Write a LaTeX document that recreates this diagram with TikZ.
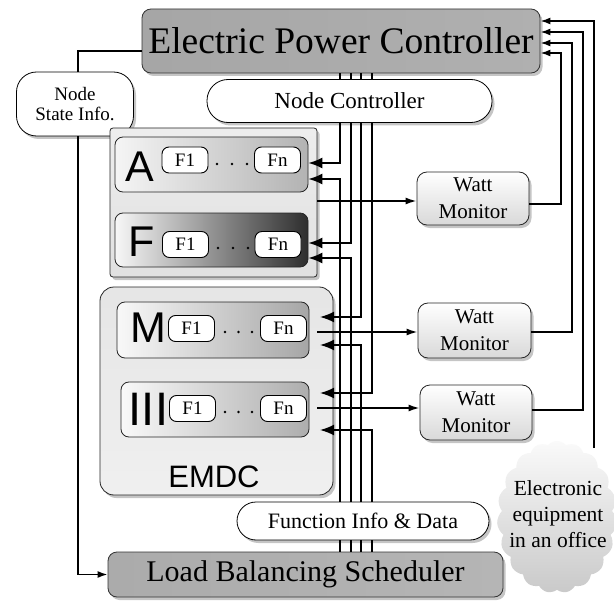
\documentclass[tikz,border=0pt]{standalone}
\usepackage{fontspec}
\setmainfont{Liberation Serif}
\newfontfamily\hvsans{Liberation Sans}
\usetikzlibrary{arrows.meta,shadows,shapes.symbols,calc}
\newcommand{\fsz}[2]{\fontsize{#1}{#2}\selectfont}
\begin{document}
\begin{tikzpicture}[x=1pt,y=-1pt]
\tikzset{
  conn/.style={line width=1.7pt},
  arr/.style={conn,-{Latex[length=14pt,width=11pt]}},
  warr/.style={conn,-{Latex[length=11pt,width=7pt]}},
  sarr/.style={conn,-{Latex[length=10pt,width=7pt]}},
  sh/.style={drop shadow={shadow xshift=2.5pt,shadow yshift=-3pt,opacity=0.45}},
  bigbar/.style={sh, draw=gray!40!black, line width=0.8pt, rounded corners=9pt, inner sep=0pt},
  pill/.style={sh, draw=black, line width=0.8pt, fill=white, inner sep=0pt, align=center},
  fbox/.style={draw=black, line width=0.9pt, fill=white, rounded corners=7pt, minimum width=46pt, minimum height=26pt, inner sep=0pt, font=\fsz{19}{19}},
  ftl/.style={font=\hvsans\fsz{43}{43}, inner sep=0pt},
  fam/.style={draw=gray!30!black, line width=0.8pt, rounded corners=8pt, inner sep=0pt},
  grpbox/.style={sh, draw=gray!30!black, line width=0.8pt, inner sep=0pt},
  watt/.style={sh, draw=gray!30!black, line width=0.8pt, rounded corners=10pt, top color=white, bottom color=gray!30, inner sep=0pt, align=center, font=\fsz{21}{27}},
}
\useasboundingbox (0,0) rectangle (614,602);
\fill[white] (0,0) rectangle (614,602);

% coordinates
\coordinate (t1) at (340,0); \coordinate (t2) at (351,0);
\coordinate (t3) at (361,0); \coordinate (t4) at (372,0);
\coordinate (r1) at (561,0); \coordinate (r2) at (572,0);
\coordinate (r3) at (583,0); \coordinate (r4) at (594,0);
\coordinate (xN) at (78,0);
\coordinate (xE) at (320,0);
\coordinate (xS) at (317,0);
\coordinate (yA1) at (0,163); \coordinate (yA2) at (0,179); \coordinate (yAw) at (0,201);
\coordinate (yF1) at (0,243); \coordinate (yF2) at (0,258);
\coordinate (yM1) at (0,317); \coordinate (yMw) at (0,332); \coordinate (yM2) at (0,345);
\coordinate (yI1) at (0,393); \coordinate (yIw) at (0,408); \coordinate (yI2) at (0,430);
\coordinate (yE1) at (0,53); \coordinate (yE2) at (0,43); \coordinate (yE3) at (0,32); \coordinate (yE4) at (0,21);
\coordinate (yW1) at (0,204); \coordinate (yW2) at (0,332); \coordinate (yW3) at (0,410);
\coordinate (yNS) at (0,51);
\coordinate (eqend) at (594,448);

% cloud
\node[cloud, cloud puffs=19, cloud puff arc=100, cloud ignores aspect, minimum width=120pt, minimum height=152pt, inner sep=0pt, top color=gray!4, bottom color=gray!42] (eq) at (557,517) {};
\node[inner sep=0pt, align=center, font=\fsz{21.5}{26}] (eqt) at (558,514) {Electronic\\equipment\\in an office};

% main bars
\node[bigbar, minimum width=398pt, minimum height=64pt, left color=gray!70, middle color=gray!26, right color=gray!62, font=\fsz{37.5}{37.5}] (epc) at (341,41) {Electric Power Controller};
\node[bigbar, minimum width=395pt, minimum height=45pt, left color=gray!66, middle color=gray!34, right color=gray!58, font=\fsz{30}{30}] (lbs) at (305.5,574.5) {Load Balancing Scheduler};

\node[pill, rounded corners=20pt, minimum width=117pt, minimum height=64pt, font=\fsz{19}{20}] (nsi) at (75,104) {Node\\State Info.};
\node[pill, rounded corners=21pt, minimum width=285pt, minimum height=43pt, font=\fsz{23}{23}] (nc) at (349.5,101) {Node Controller};
\node[pill, rounded corners=19pt, minimum width=252pt, minimum height=38pt, font=\fsz{22}{22}] (fid) at (363,521) {Function Info \& Data};

% group A/F
\node[grpbox, rounded corners=3pt, minimum width=207pt, minimum height=149pt, top color=gray!14, bottom color=gray!24] (grp) at (213.5,202.5) {};
\node[fam, minimum width=193pt, minimum height=55pt, left color=gray!8, right color=gray!60] (A) at (211.5,164.5) {};
\node[fam, minimum width=193pt, minimum height=54pt, left color=gray!6, right color=black!82] (F) at (211.5,240) {};

% EMDC
\node[grpbox, rounded corners=14pt, minimum width=233pt, minimum height=208pt, top color=gray!20, bottom color=gray!12] (emdc) at (216.5,391) {};
\node[fam, minimum width=192pt, minimum height=56pt, left color=gray!5, right color=gray!70] (M) at (213,330) {};
\node[fam, minimum width=188pt, minimum height=55pt, left color=gray!5, right color=gray!64] (III) at (215,409.5) {};
\node[inner sep=0pt, font=\hvsans\fsz{31}{31}] (emdcl) at (214,477) {EMDC};

% letters
\node[ftl] (lA) at (140,167) {A};
\node[ftl] (lF) at (142,242) {F};
\node[ftl] (lM) at (148.5,327.5) {M};
\node[ftl, font=\hvsans\fsz{47}{47}] (lI) at (148.5,409) {III};

% F1 / Fn boxes
\node[fbox] (A1) at (185,160) {F1};   \node[fbox] (An) at (277.5,160) {Fn};
\node[fbox] (F1) at (185.5,244.5) {F1}; \node[fbox] (Fn) at (278,244.5) {Fn};
\node[fbox] (M1) at (191.5,328.5) {F1}; \node[fbox] (Mn) at (283.5,328.5) {Fn};
\node[fbox] (I1) at (192.5,408.5) {F1}; \node[fbox] (In) at (283.5,408.5) {Fn};
\foreach \x in {217,232,247} \fill (\x,164) circle (1.3);
\foreach \x in {218,233,248} \fill (\x,248) circle (1.3);
\foreach \x in {225,238.5,252} \fill (\x,332) circle (1.3);
\foreach \x in {225,238.5,252} \fill (\x,412) circle (1.3);

% watt monitors
\node[watt, minimum width=112pt, minimum height=53pt] (w1) at (473,198.5) {Watt\\Monitor};
\node[watt, minimum width=113pt, minimum height=55pt] (w2) at (474.5,330.5) {Watt\\Monitor};
\node[watt, minimum width=112pt, minimum height=55pt] (w3) at (476,412.5) {Watt\\Monitor};

% stubs
\foreach \t in {t1,t2,t3,t4} {
  \draw[conn] (\t |- epc.south) -- (\t |- nc.north);
  \draw[conn] (\t |- fid.south) -- (\t |- lbs.north);
}

% bus lines
\draw[arr] (t1 |- nc.south) |- (A.east |- yA1);
\draw[arr] (t1 |- fid.north) |- (A.east |- yA2);
\draw[arr] (t2 |- nc.south) |- (F.east |- yF1);
\draw[arr] (t2 |- fid.north) |- (F.east |- yF2);
\draw[arr] (t3 |- nc.south) |- (xE |- yM1);
\draw[arr] (t3 |- fid.north) |- (xE |- yM2);
\draw[arr] (t4 |- nc.south) |- (xE |- yI1);
\draw[arr] (t4 |- fid.north) |- (xE |- yI2);

% to watt monitors
\draw[warr] (grp.east |- yAw) -- (w1.west |- yAw);
\draw[warr] (xS |- yMw) -- (w2.west |- yMw);
\draw[warr] (xS |- yIw) -- (w3.west |- yIw);

% watt monitors to EPC
\draw[sarr] (w1.east |- yW1) -| (r1 |- yE1) -- (epc.east |- yE1);
\draw[sarr] (w2.east |- yW2) -| (r2 |- yE2) -- (epc.east |- yE2);
\draw[sarr] (w3.east |- yW3) -| (r3 |- yE3) -- (epc.east |- yE3);
\draw[sarr] (eqend) -- (r4 |- yE4) -- (epc.east |- yE4);

% node state info
\draw[conn] (xN |- nsi.north) |- (epc.west |- yNS);
\draw[sarr] (xN |- nsi.south) |- (lbs.west);
\end{tikzpicture}
\end{document}
